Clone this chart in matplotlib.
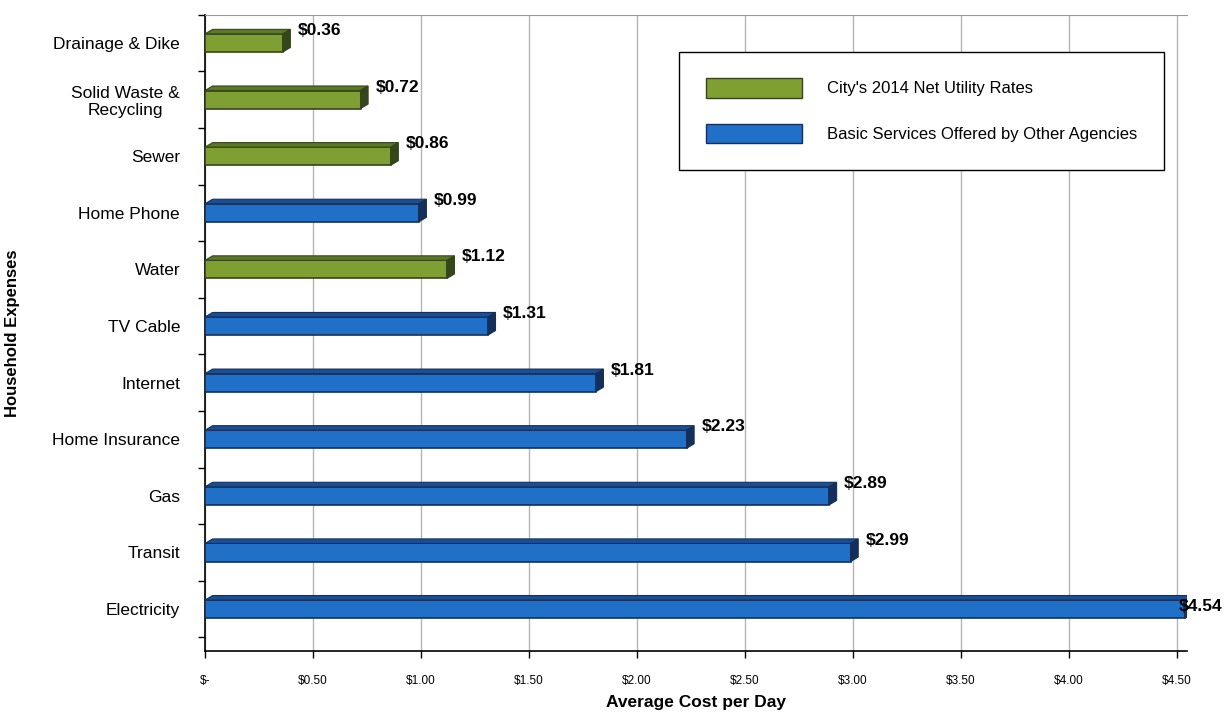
import numpy as np
import matplotlib.pyplot as plt
from matplotlib.patches import Patch, Polygon

plt.rcParams['font.family'] = ['Liberation Sans', 'DejaVu Sans']

# Household expenses, top to bottom
categories = ['Drainage & Dike', 'Solid Waste &\nRecycling', 'Sewer', 'Home Phone', 'Water',
              'TV Cable', 'Internet', 'Home Insurance', 'Gas', 'Transit', 'Electricity']
costs = [0.36, 0.72, 0.86, 0.99, 1.12, 1.31, 1.81, 2.23, 2.89, 2.99, 4.54]
# True = City's utility rate, False = other agency
is_city = [True, True, True, False, True, False, False, False, False, False, False]

xticks = [0, 0.5, 1.0, 1.5, 2.0, 2.5, 3.0, 3.5, 4.0, 4.5]
xtick_labels = ['$-', '$0.50', '$1.00', '$1.50', '$2.00', '$2.50', '$3.00', '$3.50', '$4.00', '$4.50']

green, green_edge, green_top = '#7f9f32', '#34461a', '#5c7726'
blue, blue_edge, blue_top = '#2170c8', '#152f5c', '#1b4f94'

fig = plt.figure(figsize=(12.28, 7.15), dpi=100)
ax = fig.add_axes([0.167, 0.0895, 0.8, 0.89])

xmax = 4.55
y = np.arange(len(categories))
h = 0.32
colors = [green if c else blue for c in is_city]
edges = [green_edge if c else blue_edge for c in is_city]
tops = [green_top if c else blue_top for c in is_city]

ax.barh(y, costs, height=h, color=colors, edgecolor=edges, linewidth=1.2, zorder=3)

# fake 3D top face and end cap
dx, dy = 0.035, 0.08
for yi, v, tc, ec in zip(y, costs, tops, edges):
    top = Polygon([(0, yi - h / 2), (dx, yi - h / 2 - dy), (v + dx, yi - h / 2 - dy), (v, yi - h / 2)],
                  closed=True, facecolor=tc, edgecolor=ec, linewidth=0.8, zorder=3)
    cap = Polygon([(v, yi - h / 2), (v + dx, yi - h / 2 - dy), (v + dx, yi + h / 2 - dy), (v, yi + h / 2)],
                  closed=True, facecolor=ec, edgecolor=ec, linewidth=0.8, zorder=3)
    ax.add_patch(top)
    ax.add_patch(cap)
    # label sits right of the bar, pulled back onto the bar end when it would run off
    lx = v + 0.07 if v + 0.07 < xmax - 0.2 else v - 0.03
    ly = yi - 0.22 if v + 0.07 < xmax - 0.2 else yi - 0.05
    ax.text(lx, ly, f'${v:.2f}', fontsize=12.5, fontweight='bold',
            va='center', ha='left', zorder=4)

ax.set_xlim(0, xmax)
ax.set_ylim(10.74, -0.44)

ax.set_xticks(xticks)
ax.set_xticklabels(xtick_labels, fontsize=8.5)
ax.set_yticks(y)
ax.set_yticklabels(categories, fontsize=12.5, multialignment='center')
ax.tick_params(axis='y', length=0, pad=18)
ax.set_yticks(np.arange(len(categories) + 1) - 0.5, minor=True)
ax.tick_params(axis='y', which='minor', length=5, width=1)
ax.tick_params(axis='x', length=5, width=1, pad=12)

ax.grid(axis='x', color='#b5b5b5', linewidth=1, zorder=0)
ax.spines['right'].set_visible(False)
ax.spines['top'].set_color('#999999')
ax.spines['left'].set_linewidth(1.2)
ax.spines['bottom'].set_linewidth(1.2)

ax.set_xlabel('Average Cost per Day', fontsize=12.5, fontweight='bold', labelpad=6)
ax.set_ylabel('Household Expenses', fontsize=12, fontweight='bold')
ax.yaxis.set_label_coords(-0.188, 0.5)

handles = [Patch(facecolor=green, edgecolor=green_edge, label="City's 2014 Net Utility Rates"),
           Patch(facecolor=blue, edgecolor=blue_edge, label='Basic Services Offered by Other Agencies')]
leg = ax.legend(handles=handles, loc='upper right', bbox_to_anchor=(0.985, 0.955), fontsize=12,
                handlelength=5.8, handleheight=1.4, labelspacing=1.6, borderpad=1.6,
                handletextpad=1.5, fancybox=False, framealpha=1, edgecolor='black')
leg.get_frame().set_linewidth(1)

plt.savefig('out.png', dpi=100)
